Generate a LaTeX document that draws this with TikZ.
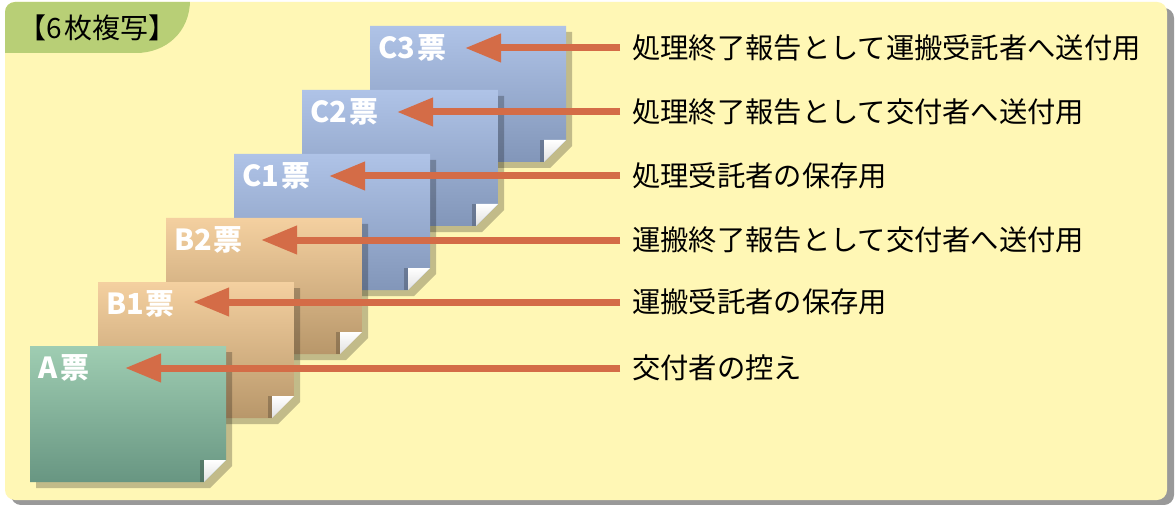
\documentclass[tikz,border=0pt]{standalone}
\usepackage{fontspec}
\newfontfamily\jp{Noto Sans CJK JP}
\usetikzlibrary{arrows.meta}
\definecolor{bgyellow}{HTML}{FFF7B5}
\definecolor{tabgreen}{HTML}{B8CF76}
\definecolor{arrowred}{HTML}{D46C47}
\definecolor{ctop}{HTML}{AFC3E7}
\definecolor{cbot}{HTML}{8296B9}
\definecolor{btop}{HTML}{F4D0A0}
\definecolor{bbot}{HTML}{B8976A}
\definecolor{atop}{HTML}{9FCDB2}
\definecolor{abot}{HTML}{689682}
\newcommand\ticketcard[6]{%
  % #1 name, #2 x0, #3 y0, #4 top colour, #5 bottom colour, #6 label
  \fill[black,opacity=0.24] ({#2+6},{#3+6}) -- ++(196,0) -- ++(0,114) -- ++(-22,22) -- ++(-174,0) -- cycle;
  \shade[top color=#4,bottom color=#5] (#2,#3) -- ++(196,0) -- ++(0,114) -- ++(-22,22) -- ++(-174,0) -- cycle;
  \node[inner sep=0,minimum width=196pt,minimum height=136pt,anchor=north west] (#1) at (#2,#3) {};
  \fill[black,opacity=0.22] ({#2+170},{#3+114}) rectangle ({#2+174},{#3+136});
  \shade[top color=white,bottom color=white!88!black] ({#2+174},{#3+114}) -- ({#2+196},{#3+114}) -- ({#2+174},{#3+136}) -- cycle;
  \node[cardlabel] (#1l) at ({#2+8},{#3+22}) {#6};
}
\begin{document}
\begin{tikzpicture}[x=1pt,y=-1pt,
  cardlabel/.style={anchor=west,inner sep=0,text=white,font=\jp\bfseries\fontsize{29}{31}\selectfont},
  usetext/.style={anchor=west,inner xsep=12pt,inner ysep=0,font=\jp\fontsize{28.3}{30}\selectfont},
  arr/.style={draw=arrowred,line width=7pt,-{Triangle[length=36pt,width=27pt]}}]
\useasboundingbox (0,0) rectangle (1175,505);
\fill[white] (0,0) rectangle (1175,505);
% background panel with shadow
\fill[black!40,rounded corners=10pt] (11,8) rectangle (1174,505);
\fill[bgyellow,rounded corners=10pt] (5,2) rectangle (1167,500);
% title tab
\begin{scope}
  \clip[rounded corners=10pt] (5,2) rectangle (1167,500);
  \fill[tabgreen] (0,0) -- (190,0) .. controls (190,32) and (166,53) .. (136,53) -- (0,53) -- cycle;
\end{scope}
\node[anchor=west,inner sep=0,font=\jp\fontsize{28}{30}\selectfont] (title) at (18,28) {【6\kern3pt 枚複写】};
% cards, back to front
\ticketcard{C3}{370}{26}{ctop}{cbot}{C3\kern2pt 票}
\ticketcard{C2}{302}{90}{ctop}{cbot}{C2\kern2pt 票}
\ticketcard{C1}{234}{154}{ctop}{cbot}{C1\kern2pt 票}
\ticketcard{B2}{166}{218}{btop}{bbot}{B2\kern1pt 票}
\ticketcard{B1}{98}{282}{btop}{bbot}{B1\kern2pt 票}
\ticketcard{A}{30}{346}{atop}{abot}{A\kern3pt 票}
% usage texts
\node[usetext] (tC3) at (620,48) {処理終了報告として運搬受託者へ送付用};
\node[usetext] (tC2) at (620,112) {処理終了報告として交付者へ送付用};
\node[usetext] (tC1) at (620,176) {処理受託者の保存用};
\node[usetext] (tB2) at (620,240) {運搬終了報告として交付者へ送付用};
\node[usetext] (tB1) at (620,302) {運搬受託者の保存用};
\node[usetext] (tA) at (620,368) {交付者の控え};
% arrow tips
\coordinate (pC3) at (465,48);
\coordinate (pC2) at (397,112);
\coordinate (pC1) at (329,176);
\coordinate (pB2) at (261,240);
\coordinate (pB1) at (193,302);
\coordinate (pA) at (125,368);
\foreach \n in {C3,C2,C1,B2,B1,A}
  \draw[arr] (t\n.west) -- (p\n);
\end{tikzpicture}
\end{document}
